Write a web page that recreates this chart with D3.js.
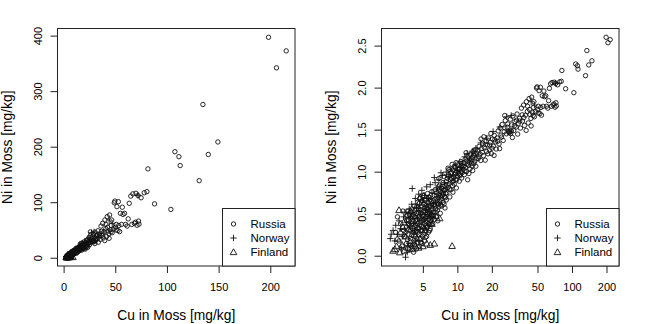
<!DOCTYPE html>
<html>
<head>
<meta charset="utf-8">
<script src="https://cdn.jsdelivr.net/npm/d3@7"></script>
<style>
  body { margin: 0; background: #fff; }
  svg text { font-family: "Liberation Sans", Arial, Helvetica, sans-serif; fill: #000; }
</style>
</head>
<body>
<svg id="chart" width="648" height="324"></svg>
<script>
// Moss survey: copper vs nickel concentration per sample, by country  [Cu, Ni] in mg/kg
const countries = ["Russia", "Norway", "Finland"];

const russia = [
  [2.9,1.9],[3.1,1.5],[3.2,2.4],[3.3,1.3],[3.4,2.0],[3.0,2.9],[3.35,3.4],[3.45,1.7],
  [3.6,1.4],[3.6,2.2],[3.7,1.8],[3.7,2.7],[3.8,1.2],[3.8,3.1],[3.9,2.0],[3.9,1.6],[4.0,2.4],[4.0,3.6],
  [4.0,1.3],[4.1,1.9],[4.1,2.9],[4.2,1.5],[4.2,2.2],[4.2,3.9],[4.3,1.7],[4.3,2.6],[4.4,1.2],[4.4,2.0],
  [4.4,3.2],[4.5,1.45],[4.5,2.4],[4.5,4.3],[3.75,2.4],[3.95,2.8],[4.15,1.1],[4.35,1.9],[3.65,3.0],[4.05,2.1],
  [4.6,1.8],[4.6,2.9],[4.6,3.6],[4.7,1.3],[4.7,2.3],[4.7,4.8],[4.8,2.0],[4.8,3.2],[4.8,1.6],[4.9,2.6],
  [4.9,3.9],[4.9,1.4],[5.0,2.2],[5.0,3.0],[5.0,5.2],[5.1,1.8],[5.1,2.7],[5.1,4.1],[5.2,2.4],[5.2,3.4],
  [5.2,1.5],[5.3,2.0],[5.3,2.9],[5.3,4.6],[5.4,2.5],[5.4,3.7],[5.4,1.7],[5.5,2.2],[5.5,3.1],[5.5,5.5],
  [5.6,2.7],[5.6,4.0],[5.6,1.9],[5.7,3.3],[5.7,2.4],[5.7,4.9],[5.8,2.9],[5.8,3.8],[5.8,2.1],[5.9,3.5],
  [5.9,4.4],[5.9,2.6],[6.0,3.0],[6.0,5.8],[4.75,2.5],[4.95,2.0],[5.15,3.7],[5.35,2.3],[5.55,4.3],[5.75,2.0],
  [3.55,1.9],[3.62,2.6],[3.68,1.55],[3.72,3.4],[3.83,2.3],[3.88,1.35],[3.93,3.3],[4.02,1.75],[4.08,2.65],
  [4.13,3.1],[4.18,2.0],[4.23,1.35],[4.27,2.9],[4.33,2.3],[4.38,3.6],[4.43,1.6],[4.47,2.7],[4.52,1.9],
  [4.57,3.3],[4.63,2.1],[4.66,4.2],[4.72,2.75],[4.78,1.45],[4.83,3.5],[4.87,2.25],[4.92,4.5],[4.97,1.7],
  [5.03,2.6],[5.07,3.4],[5.13,2.1],[5.18,4.6],[5.23,2.8],[5.27,1.65],[5.32,3.3],[5.37,4.0],[5.42,2.15],
  [5.47,2.9],[5.52,3.6],[5.58,2.4],[5.63,5.0],[5.67,2.8],[5.72,3.9],[5.78,3.2],[5.83,4.7],[5.88,2.35],
  [5.93,3.1],[5.97,4.1],
  [6.1,3.6],[6.1,2.4],[6.2,4.5],[6.2,3.0],[6.3,5.2],[6.3,2.7],[6.4,3.9],[6.4,6.1],[6.5,3.3],[6.5,4.8],
  [6.6,2.9],[6.6,5.6],[6.7,4.2],[6.7,3.5],[6.8,6.6],[6.8,4.9],[6.9,3.8],[6.9,5.4],[7.0,4.4],[7.0,6.9],
  [7.1,3.2],[7.1,5.8],[7.2,4.7],[7.3,6.3],[7.3,3.9],[7.4,5.2],[7.5,7.4],[7.5,4.3],[7.6,6.0],[7.7,5.0],
  [7.8,6.8],[7.8,3.7],[7.9,5.5],[8.0,7.6],[8.0,4.6],[6.35,4.1],[6.75,2.6],[7.25,5.0],[7.65,4.1],[7.95,6.2],
  [6.05,2.8],[6.15,3.3],[6.25,4.1],[6.45,3.6],[6.55,5.2],[6.65,4.5],[6.85,4.1],[6.95,6.2],[7.05,5.1],
  [7.15,4.0],[7.35,5.6],[7.45,6.7],[7.55,5.5],[7.75,6.0],[7.85,4.9],[6.9,8.3],[7.6,8.8],
  [8.1,5.6],[8.2,8.3],[8.3,6.5],[8.4,9.2],[8.5,7.2],[8.6,5.0],[8.7,8.0],[8.8,6.1],[8.9,9.8],[9.0,7.5],
  [9.1,6.8],[9.2,10.5],[9.3,8.6],[9.4,7.1],[9.5,9.3],[9.6,11.2],[9.7,8.1],[9.8,6.4],[9.9,10.0],[10.0,8.8],
  [10.1,12.0],[10.2,9.5],[10.4,7.7],[10.5,11.0],[10.6,9.0],[10.7,13.2],[10.8,10.2],[10.9,8.4],[11.0,11.8],
  [11.0,9.7],[8.45,10.6],[9.15,5.7],[9.75,12.8],[10.35,10.8],
  [8.15,7.0],[8.35,8.8],[8.55,6.2],[8.75,9.5],[8.95,8.3],[9.25,7.8],[9.45,11.5],[9.65,9.7],[9.85,8.0],
  [10.15,10.6],[10.45,9.2],[10.75,11.6],[10.95,12.6],[8.3,11.0],[9.0,12.2],
  [11.2,10.6],[11.4,12.8],[11.5,9.2],[11.7,14.1],[11.8,11.3],[12.0,10.0],[12.1,13.4],[12.3,8.0],[12.4,15.2],
  [12.5,11.9],[12.7,12.9],[12.9,10.8],[13.0,16.0],[13.2,13.7],[13.4,11.7],[13.5,14.8],[13.7,17.4],[13.9,12.4],
  [14.0,15.6],[14.2,13.3],[14.4,18.3],[14.6,14.2],[14.8,16.6],[11.9,16.8],[12.6,9.5],[13.6,10.3],[14.5,11.6],
  [11.3,11.5],[11.6,10.2],[12.2,12.3],[12.8,14.2],[13.3,12.6],[13.8,15.8],[14.3,16.5],
  [15.0,17.6],[15.2,14.3],[15.5,20.0],[15.8,16.2],[16.0,13.6],[16.3,18.9],[16.6,21.8],[16.9,15.5],[17.2,19.5],
  [17.5,13.7],[17.8,23.0],[18.0,17.4],[18.3,20.8],[18.7,25.2],[19.0,18.1],[19.4,22.3],[19.8,16.4],[20.2,24.4],
  [20.6,20.1],[21.0,27.0],[21.4,22.6],[21.8,18.6],[16.1,24.5],[17.0,26.0],[19.6,28.5],[20.9,15.6],
  [15.4,15.0],[16.5,17.0],[17.6,21.0],[18.5,16.3],[19.2,20.7],[20.0,19.0],[21.2,24.0],
  [22.2,25.2],[22.7,30.5],[23.1,21.4],[23.6,33.0],[24.0,27.2],[24.6,36.5],[25.1,23.5],[25.6,30.0],[26.2,40.5],
  [26.8,28.2],[27.3,33.8],[27.9,30.0],[28.3,29.0],[28.8,31.2],[29.2,28.5],[29.0,42.0],[29.8,36.0],[30.5,46.0],
  [31.0,30.8],[31.8,39.5],[32.5,34.0],[33.2,48.5],[34.0,37.5],[34.8,43.0],[23.4,18.8],[25.9,46.5],[30.2,25.5],
  [33.6,28.0],[22.5,23.0],[24.3,25.8],[26.0,33.0],[27.5,37.0],[28.6,29.8],[29.6,30.5],[31.4,35.0],[32.8,41.0],
  [35.5,33.0],[36.2,57.0],[37.0,40.0],[37.8,62.0],[38.5,35.5],[39.2,47.0],[40.0,68.0],[40.8,52.0],[41.5,38.0],
  [42.2,74.0],[43.0,48.0],[43.8,43.0],[44.5,77.0],[45.3,50.5],[46.2,58.0],[47.0,45.0],[48.0,52.0],[49.0,99.0],
  [49.6,102.0],[50.3,55.0],[51.0,60.0],[51.6,92.0],[52.5,49.0],[53.4,58.0],[54.2,47.0],[55.0,80.0],[56.0,60.0],
  [56.8,91.0],[36.8,47.5],[39.8,31.0],[41.0,60.0],[46.5,68.0],[53.0,101.0],[44.0,35.0],
  [35.0,40.0],[38.0,44.0],[42.5,55.0],[45.8,46.5],[50.8,50.0],
  [57.5,78.0],[59.0,80.0],[60.0,60.0],[61.5,57.0],[63.5,98.0],[65.0,111.0],[66.0,60.0],[67.0,115.0],[68.5,62.0],
  [69.5,64.0],[70.0,116.0],[71.0,58.5],[72.0,112.0],[72.5,66.0],[73.0,60.5],[75.0,108.0],[78.0,117.0],[62.5,70.0],
  [80.6,119.0],[81.6,160.0],[88.0,97.0],[103.8,87.0],[107.7,191.0],[111.6,182.0],[112.8,166.0],[131.2,138.8],
  [134.8,276.0],[140.0,186.0],[149.3,208.5],[198.3,397.0],[206.0,342.0],[215.4,372.5]
];

const norway = [
  [2.6,1.6],[2.65,1.8],[2.75,2.0],[2.85,1.5],[2.9,2.3],[3.0,1.8],[3.1,2.6],[3.2,2.1],[3.3,1.7],[3.4,2.9],
  [3.53,0.96],[3.5,3.3],[3.6,2.5],[3.7,1.3],[3.8,3.6],[3.9,2.9],[4.0,4.1],[4.04,6.3],[4.1,3.3],[4.2,2.4],
  [4.3,4.8],[4.4,3.7],[4.5,2.8],[4.6,5.4],[4.7,4.0],[4.8,3.1],[4.9,6.0],[5.0,4.5],[5.2,5.2],[5.3,3.6],
  [5.4,6.6],[5.6,4.8],[5.8,7.0],[6.0,5.6],[6.2,4.2],[6.4,7.4],[6.6,6.2],[6.9,8.0],[7.1,6.6],[7.4,9.0],
  [7.7,7.4],[8.0,9.9],[8.4,8.6],[8.8,10.7],[9.2,9.1],[9.6,12.0],[10.0,10.3],[10.5,13.1],[11.0,11.2],[11.6,15.0],
  [12.2,16.4],[12.8,13.8],[13.5,17.5],[14.5,19.0],[16.0,22.0],[18.0,25.0],[20.5,30.0],[23.5,34.0],[27.0,45.0],
  [29.5,46.5],[44.0,68.0],[47.0,62.0],[72.0,112.5],[3.25,1.2],[3.65,1.1],[4.35,1.5],[3.85,2.2],[7.2,9.7],[6.3,8.5]
];

const finland = [
  [2.75,1.15],[2.85,1.2],[2.95,1.3],[3.0,1.6],[3.1,3.5],[3.15,1.1],[3.2,1.9],[3.3,1.35],[3.4,2.5],[3.45,1.15],
  [3.55,1.7],[3.6,3.0],[3.7,1.25],[3.75,2.1],[3.85,1.5],[3.9,3.4],[4.0,1.2],[4.1,2.6],[4.2,1.8],[4.3,1.3],
  [4.4,3.9],[4.5,2.2],[4.6,1.25],[4.7,1.6],[4.77,5.0],[4.9,2.8],[5.0,1.3],[5.1,5.2],[5.2,2.0],[5.4,1.4],
  [5.5,3.3],[5.8,1.35],[6.0,2.4],[6.3,1.4],[6.5,3.0],[7.0,2.8],[9.0,1.31],[3.35,2.2],[4.15,1.4],[4.55,3.2]
];

const cuTicksLinear = [0, 50, 100, 150, 200];
const niTicksLinear = [0, 100, 200, 300, 400];
const cuTicksLog = [5, 10, 20, 50, 100, 200];
const niTicksLog = [0, 0.5, 1, 1.5, 2, 2.5];
const xTitle = "Cu in Moss [mg/kg]";
const yTitle = "Ni in Moss [mg/kg]";

const groups = [
  { name: countries[0], data: russia, shape: "circle" },
  { name: countries[1], data: norway, shape: "plus" },
  { name: countries[2], data: finland, shape: "triangle" }
];
const all = russia.concat(norway, finland);

const svg = d3.select("#chart");
svg.append("rect").attr("width", 648).attr("height", 324).attr("fill", "#fff");

// R-style 4% padding on either side of the data range
function padded([a, b]) { const d = (b - a) * 0.04; return [a - d, b + d]; }

const plotTop = 28.5, plotBottom = 266, plotW = 237.5;
const panels = [
  { left: 57.5, log: false },
  { left: 381.5, log: true }
];

function symbolPath(shape, x, y) {
  if (shape === "circle") {
    const r = 2.2;
    return `M${x - r},${y}a${r},${r} 0 1,0 ${2 * r},0a${r},${r} 0 1,0 ${-2 * r},0Z`;
  }
  if (shape === "plus") {
    const s = 3.2;
    return `M${x - s},${y}H${x + s}M${x},${y - s}V${y + s}`;
  }
  const h = 2.9;
  return `M${x},${y - h * 1.1}L${x + h * 1.15},${y + h * 0.9}L${x - h * 1.15},${y + h * 0.9}Z`;
}

panels.forEach(p => {
  const g = svg.append("g");
  const x0 = p.left, x1 = p.left + plotW;
  let x, y, yv, xTicks, yTicks, yFmt;
  if (!p.log) {
    x = d3.scaleLinear().domain(padded(d3.extent(all, d => d[0]))).range([x0, x1]);
    y = d3.scaleLinear().domain(padded(d3.extent(all, d => d[1]))).range([plotBottom, plotTop]);
    yv = v => v;
    xTicks = cuTicksLinear; yTicks = niTicksLinear; yFmt = d3.format("d");
  } else {
    const lx = padded(d3.extent(all, d => Math.log10(d[0])));
    x = d3.scaleLog().domain([Math.pow(10, lx[0]), Math.pow(10, lx[1])]).range([x0, x1]);
    y = d3.scaleLinear().domain(padded(d3.extent(all, d => Math.log10(d[1])))).range([plotBottom, plotTop]);
    yv = v => Math.log10(v);
    xTicks = cuTicksLog; yTicks = niTicksLog; yFmt = d3.format(".1f");
  }

  // points
  groups.forEach(grp => {
    g.append("g").selectAll("path").data(grp.data).join("path")
      .attr("d", d => symbolPath(grp.shape, x(d[0]), y(yv(d[1]))))
      .attr("fill", "none").attr("stroke", "#111").attr("stroke-width", 0.9);
  });

  // x axis
  const xa = g.append("g").attr("transform", `translate(0,${plotBottom})`)
    .call(d3.axisBottom(x).tickValues(xTicks).tickFormat(d3.format("d")).tickSize(7).tickSizeOuter(0));
  xa.select(".domain").remove();
  xa.selectAll(".tick line").attr("stroke", "#222");
  xa.selectAll(".tick text").attr("y", 25).attr("dy", 0).attr("font-size", 11).attr("fill", "#000");

  // y axis with labels rotated parallel to the axis
  const ya = g.append("g").attr("transform", `translate(${x0},0)`)
    .call(d3.axisLeft(y).tickValues(yTicks).tickFormat(yFmt).tickSize(7).tickSizeOuter(0));
  ya.select(".domain").remove();
  ya.selectAll(".tick line").attr("stroke", "#222");
  ya.selectAll(".tick text").attr("transform", "rotate(-90)").attr("x", 0).attr("y", -15.5)
    .attr("dy", 0).attr("text-anchor", "middle").attr("font-size", 11).attr("fill", "#000");

  // frame
  g.append("rect").attr("x", x0).attr("y", plotTop).attr("width", plotW).attr("height", plotBottom - plotTop)
    .attr("fill", "none").attr("stroke", "#222").attr("stroke-width", 1);

  // titles
  g.append("text").attr("x", (x0 + x1) / 2).attr("y", 320).attr("text-anchor", "middle")
    .attr("font-size", 13.8).text(xTitle);
  g.append("text").attr("transform", `translate(${x0 - 45.5},${(plotTop + plotBottom) / 2}) rotate(-90)`)
    .attr("text-anchor", "middle").attr("font-size", 13.8).text(yTitle);

  // legend
  const lg = g.append("g");
  lg.append("rect").attr("x", x1 - 72.5).attr("y", 208.5).attr("width", 72.5).attr("height", plotBottom - 208.5)
    .attr("fill", "#fff").attr("stroke", "#222").attr("stroke-width", 1);
  groups.forEach((grp, i) => {
    const cy = 224 + i * 14;
    lg.append("path").attr("d", symbolPath(grp.shape, x1 - 61.5, cy))
      .attr("fill", "none").attr("stroke", "#111").attr("stroke-width", 0.9);
    lg.append("text").attr("x", x1 - 44.5).attr("y", cy + 4).attr("font-size", 11.5).text(grp.name);
  });
});
</script>
</body>
</html>
